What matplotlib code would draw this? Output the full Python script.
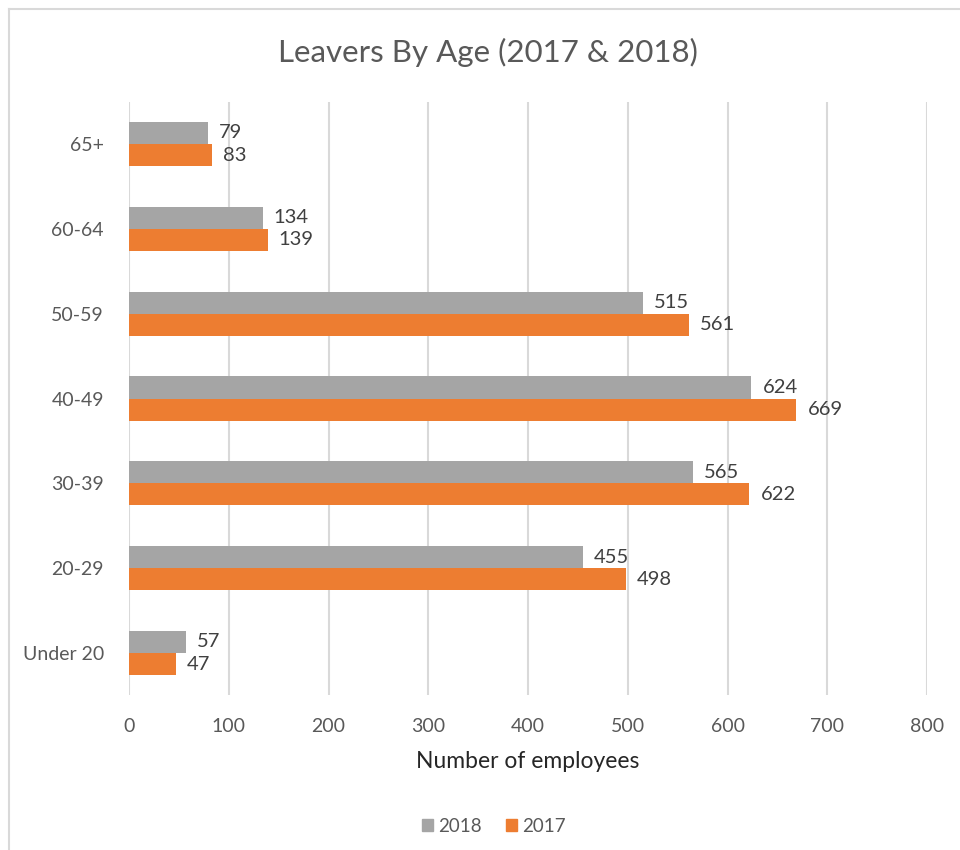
import matplotlib.pyplot as plt
from matplotlib.lines import Line2D
from matplotlib.patches import Patch
import numpy as np

AGE_GROUPS = ['Under 20', '20-29', '30-39', '40-49', '50-59', '60-64', '65+']
LEAVERS_2018 = [57, 455, 565, 624, 515, 134, 79]
LEAVERS_2017 = [47, 498, 622, 669, 561, 139, 83]
X_TICKS = [0, 100, 200, 300, 400, 500, 600, 700, 800]

GREY = '#A5A5A5'
ORANGE = '#ED7D31'
TEXT = '#595959'

plt.rcParams['font.family'] = ['Lato', 'DejaVu Sans']

fig = plt.figure(figsize=(9.6, 8.5), dpi=100)
ax = fig.add_axes([129 / 960, 1 - 695.4 / 850, 798 / 960, 593.8 / 850])

y = np.arange(len(AGE_GROUPS))
bar_h = 0.26
ax.barh(y + bar_h / 2, LEAVERS_2018, height=bar_h, color=GREY, zorder=3)
ax.barh(y - bar_h / 2, LEAVERS_2017, height=bar_h, color=ORANGE, zorder=3)

# value labels just past the end of each bar
for i in range(len(AGE_GROUPS)):
    ax.annotate(str(LEAVERS_2018[i]), (LEAVERS_2018[i], y[i] + bar_h / 2),
                xytext=(8, 0), textcoords='offset points', va='center', ha='left',
                fontsize=14.5, color='#404040')
    ax.annotate(str(LEAVERS_2017[i]), (LEAVERS_2017[i], y[i] - bar_h / 2),
                xytext=(8, 0), textcoords='offset points', va='center', ha='left',
                fontsize=14.5, color='#404040')

ax.set_xlim(0, 800)
ax.set_ylim(-0.5, len(AGE_GROUPS) - 0.5)
ax.set_xticks(X_TICKS)
ax.set_yticks(y)
ax.set_yticklabels(AGE_GROUPS)
ax.tick_params(axis='both', length=0, labelsize=14, labelcolor=TEXT)
ax.tick_params(axis='x', pad=16)
ax.tick_params(axis='y', pad=18)
ax.grid(axis='x', color='#D9D9D9', linewidth=1.5, zorder=0)
for s in ax.spines.values():
    s.set_visible(False)

ax.set_xlabel('Number of employees', fontsize=16.5, color='#262626', labelpad=12)
fig.text(488 / 960, 1 - 52 / 850, 'Leavers By Age (2017 & 2018)', ha='center', va='center',
         fontsize=22.5, color=TEXT)

handles = [Patch(color=GREY, label='2018'), Patch(color=ORANGE, label='2017')]
fig.legend(handles=handles, loc='center', bbox_to_anchor=(494 / 960, 1 - 826 / 850), ncol=2,
           frameon=False, fontsize=13.5, handlelength=0.55, handleheight=0.55, handletextpad=0.3,
           columnspacing=1.3, labelcolor=TEXT)

# chart border (only the top and left edges fall inside the image)
fig.add_artist(Line2D([8.5 / 960, 8.5 / 960], [0, 1 - 8.5 / 850], color='#D9D9D9', linewidth=1.5))
fig.add_artist(Line2D([8.5 / 960, 1], [1 - 8.5 / 850, 1 - 8.5 / 850], color='#D9D9D9', linewidth=1.5))

fig.savefig('out.png', dpi=100)
